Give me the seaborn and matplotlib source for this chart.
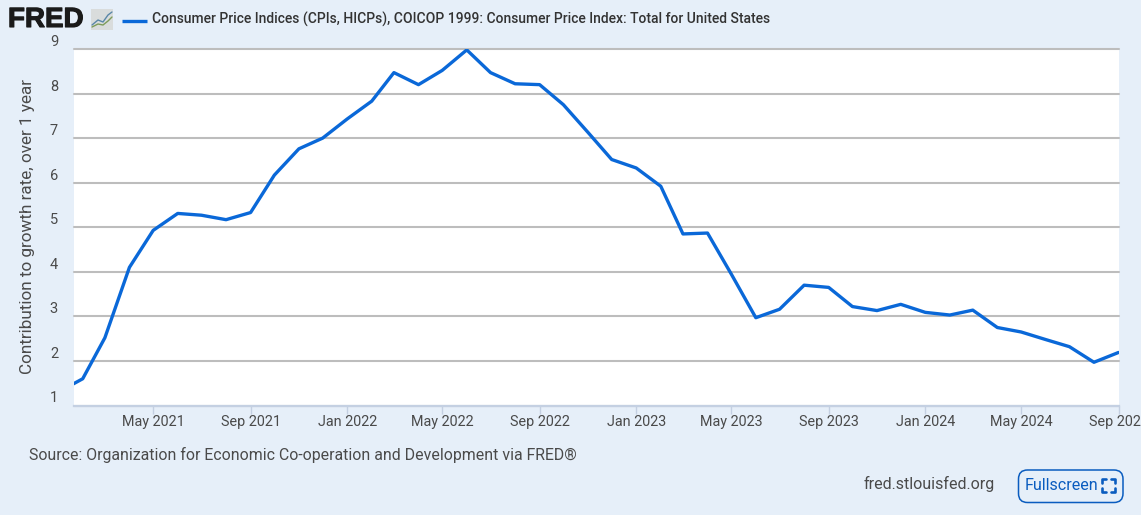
"""FRED chart: contribution to growth rate of US CPI, over 1 year."""
import matplotlib
matplotlib.use('Agg')
import matplotlib.dates as mdates
import matplotlib.patheffects as pe
import matplotlib.pyplot as plt
import pandas as pd
import seaborn as sns
from matplotlib.lines import Line2D
from matplotlib.patches import FancyBboxPatch, Rectangle

# ── Data ──────────────────────────────────────────────────────────────────
months = pd.date_range('2021-01-01', '2024-09-01', freq='MS')
cpi = [
    1.30, 1.60, 2.52, 4.10, 4.93, 5.31, 5.27, 5.17, 5.33, 6.17, 6.76, 7.00,
    7.43, 7.83, 8.47, 8.20, 8.52, 8.98, 8.47, 8.22, 8.20, 7.75, 7.13, 6.52,
    6.33, 5.92, 4.85, 4.87, 3.95, 2.97, 3.16, 3.70, 3.65, 3.22, 3.13, 3.27,
    3.09, 3.03, 3.14, 2.75, 2.65, 2.48, 2.32, 1.97, 2.19,
]
y_ticks = [1, 2, 3, 4, 5, 6, 7, 8, 9]
x_ticks = pd.to_datetime([
    '2021-05-01', '2021-09-01', '2022-01-01', '2022-05-01', '2022-09-01',
    '2023-01-01', '2023-05-01', '2023-09-01', '2024-01-01', '2024-05-01',
    '2024-09-01',
])
series_name = ('Consumer Price Indices (CPIs, HICPs), COICOP 1999: '
               'Consumer Price Index: Total for United States')

BG = '#e6eff9'
BLUE = '#0a68d8'
TEXT = '#4a4a4a'
W, H = 1141, 515

sns.set_theme(style='white')
plt.rcParams['font.family'] = ['Roboto', 'DejaVu Sans']


def fx(px):
    return px / W


def fy(px):
    return 1 - px / H


fig = plt.figure(figsize=(W / 100, H / 100), dpi=100, facecolor=BG)
ax = fig.add_axes([fx(74), fy(405.5), fx(1118.5) - fx(74), fy(49) - fy(405.5)])

df = pd.DataFrame({'date': months, 'cpi': cpi})
sns.lineplot(data=df, x='date', y='cpi', ax=ax, color=BLUE, linewidth=2.4,
             label=series_name, legend=False, zorder=3)

ax.set_xlim(pd.Timestamp('2021-01-21'), pd.Timestamp('2024-09-01'))
ax.set_ylim(1, 9)
ax.set_facecolor('white')
for side in ['top', 'right', 'left']:
    ax.spines[side].set_visible(False)
ax.spines['bottom'].set_color('#c4d0e2')
ax.spines['bottom'].set_linewidth(1.6)

ax.set_yticks(y_ticks)
ax.grid(True, axis='y', color='#bdbdbd', linewidth=1.5, clip_on=False)
ax.tick_params(axis='y', length=0, pad=11.5, labelsize=10.5, labelcolor=TEXT)
for lab in ax.get_yticklabels():
    lab.set_va('bottom')

ax.set_xticks(x_ticks)
ax.xaxis.set_major_formatter(mdates.DateFormatter('%b %Y'))
ax.tick_params(axis='x', length=6, width=1, color='#c4d0e2', pad=1,
               labelsize=10.4, labelcolor=TEXT, bottom=True)
ax.set_xlabel('')
ax.set_ylabel('')

fig.text(fx(27.5), fy(227), 'Contribution to growth rate, over 1 year',
         rotation=90, ha='center', va='center', fontsize=12.3, color=TEXT)

# header: logo, mini chart icon, legend
logo = fig.text(fx(8), fy(20), 'FRED', fontsize=20, fontweight='bold', color='#1a1a1a',
                ha='left', va='center', family=['Liberation Sans', 'DejaVu Sans'])
logo.set_path_effects([pe.withStroke(linewidth=0.8, foreground='#1a1a1a')])
fig.add_artist(Rectangle((fx(91), fy(30)), fx(22), fy(9) - fy(30),
                         transform=fig.transFigure, facecolor='#d9dcdc',
                         edgecolor='none'))
fig.add_artist(Line2D([fx(92), fx(98), fx(103), fx(108), fx(112)],
                      [fy(25), fy(20), fy(22), fy(15), fy(12)],
                      color='#5a87a8', linewidth=1))
fig.add_artist(Line2D([fx(92), fx(98), fx(103), fx(108), fx(112)],
                      [fy(27), fy(24), fy(25), fy(21), fy(17)],
                      color='#7d9c5a', linewidth=1))
fig.add_artist(Line2D([fx(122), fx(147)], [fy(20.5), fy(20.5)], color=BLUE,
                      linewidth=2.4, solid_capstyle='butt'))
fig.text(fx(152), fy(19.5), series_name, fontsize=9.96, fontweight='medium',
         color='#333333', ha='left', va='center')

# footer
fig.text(fx(29), fy(455), 'Source: Organization for Economic Co-operation and Development via FRED®',
         fontsize=11.44, color=TEXT, ha='left', va='center')
fig.text(fx(864), fy(484), 'fred.stlouisfed.org', fontsize=11.55, color=TEXT,
         ha='left', va='center')

# fullscreen button
fig.add_artist(FancyBboxPatch((1018.5, H - 502.5), 104.5, 32.5,
                              boxstyle='round,pad=0,rounding_size=9',
                              transform=None, facecolor='none',
                              edgecolor='#0a5cbf', linewidth=1.1))
fig.text(fx(1025), fy(486), 'Fullscreen', fontsize=11.6, color='#0a5cbf',
         ha='left', va='center')
for cx, dx in [(1102, 4), (1115, -4)]:
    for cy, dy in [(479, 4), (492, -4)]:
        fig.add_artist(Line2D([fx(cx + dx), fx(cx), fx(cx)],
                              [fy(cy), fy(cy), fy(cy + dy)],
                              color='#0a5cbf', linewidth=1.9))

fig.savefig('out.png', dpi=100, facecolor=BG)
plt.close(fig)
